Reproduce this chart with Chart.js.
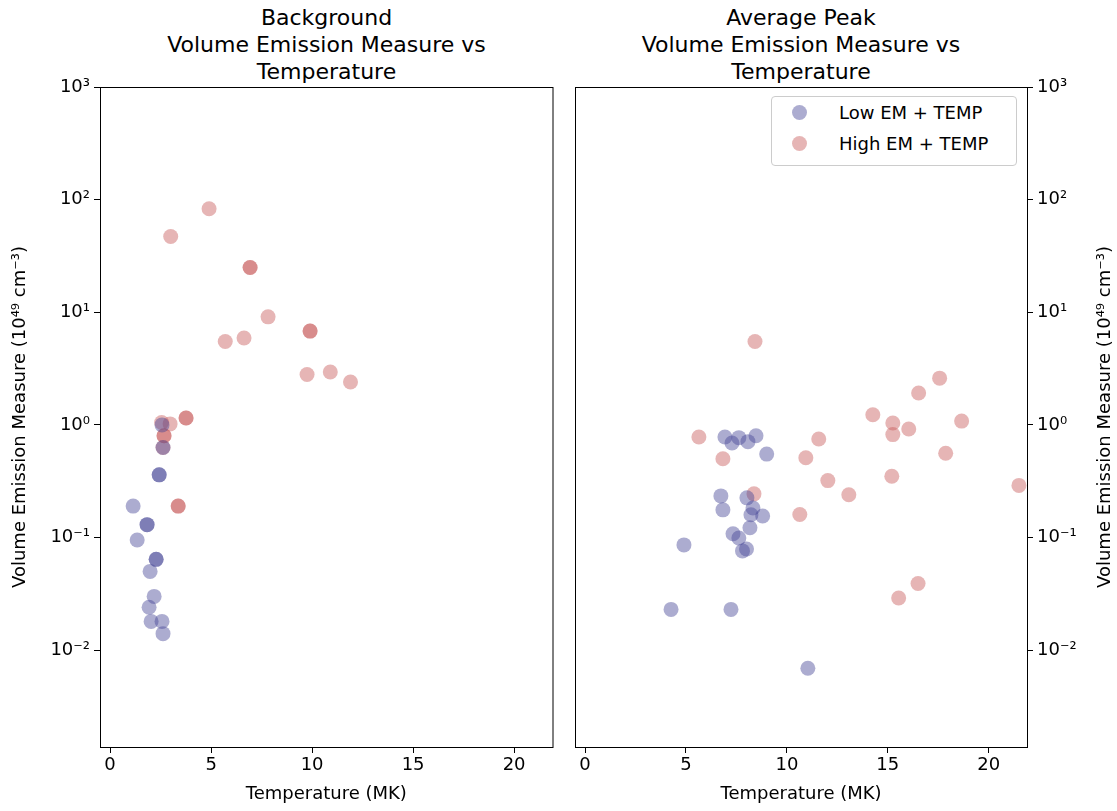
<!DOCTYPE html>
<html>
<head>
<meta charset="UTF-8">
<script src="https://cdn.jsdelivr.net/npm/chart.js"></script>
<style>
  body { margin: 0; background: #fff; font-family: 'DejaVu Sans', sans-serif; }
  .wrap { position: absolute; top: 0; height: 811px; }
  .title { position: absolute; top: 4px; text-align: center; font-size: 22px; line-height: 27px; color: #000; }
  .legend { position: absolute; left: 771px; top: 96px; width: 244px; height: 68px; border: 1px solid #ccc; border-radius: 4px; background: #fff; font-size: 18px; }
  .legend div { position: absolute; left: 20px; display: flex; align-items: center; }
  .legend span.dot { width: 15px; height: 15px; border-radius: 50%; margin-right: 32px; display: inline-block; }
</style>
</head>
<body>
<div class="title" style="left:100px;width:453px">Background<br>Volume Emission Measure vs<br>Temperature</div>
<div class="title" style="left:575px;width:452px">Average Peak<br>Volume Emission Measure vs<br>Temperature</div>
<div class="wrap" style="left:0;width:560px"><canvas id="c1"></canvas></div>
<div class="wrap" style="left:565px;width:552px"><canvas id="c2"></canvas></div>
<div class="legend">
  <div style="top:5px"><span class="dot" style="background:rgba(70,70,150,0.45)"></span>Low EM + TEMP</div>
  <div style="top:36px"><span class="dot" style="background:rgba(200,90,90,0.45)"></span>High EM + TEMP</div>
</div>
<script>
// background: low group
const bgLowT  = [2.62, 2.43, 2.43, 1.14, 1.83, 1.83, 1.34, 2.28, 2.28, 1.98, 2.18, 1.93, 2.03, 2.57, 2.62, 2.57];
const bgLowEM = [0.63, 0.36, 0.36, 0.19, 0.13, 0.13, 0.095, 0.064, 0.064, 0.05, 0.03, 0.024, 0.018, 0.018, 0.014, 1.0];
// background: high group
const bgHighT  = [2.62, 3.37, 3.37, 3.76, 3.76, 2.55, 2.97, 2.67, 2.67, 4.9, 3.0, 6.93, 6.93, 7.82, 5.7, 6.63, 9.9, 9.9, 9.75, 10.9, 11.9];
const bgHighEM = [0.63, 0.19, 0.19, 1.15, 1.15, 1.05, 1.02, 0.8, 0.8, 83, 47, 25, 25, 9.1, 5.5, 5.9, 6.8, 6.8, 2.8, 2.95, 2.4];
// peak: low group
const pkLowT  = [6.93, 7.28, 7.62, 8.07, 8.47, 9.0, 6.73, 6.83, 8.02, 8.32, 8.22, 8.8, 8.17, 7.33, 7.62, 7.8, 8.0, 4.9, 4.26, 7.23, 11.04];
const pkLowEM = [0.78, 0.69, 0.77, 0.71, 0.80, 0.55, 0.234, 0.176, 0.225, 0.183, 0.159, 0.155, 0.122, 0.108, 0.099, 0.076, 0.079, 0.086, 0.023, 0.023, 0.0069];
// peak: high group
const pkHighT  = [5.64, 6.83, 8.37, 8.42, 10.64, 10.94, 11.58, 12.03, 13.07, 14.26, 15.2, 15.25, 15.25, 15.54, 16.04, 16.5, 16.53, 17.57, 17.87, 18.66, 21.5];
const pkHighEM = [0.78, 0.5, 0.244, 5.5, 0.16, 0.51, 0.75, 0.32, 0.24, 1.23, 0.35, 0.82, 1.04, 0.029, 0.92, 0.039, 1.92, 2.6, 0.56, 1.08, 0.29];
const xTicks = [0, 5, 10, 15, 20];
const yTitle = 'Volume Emission Measure (10⁴⁹ cm⁻³)';

const lowColor = 'rgba(70,70,150,0.45)';
const highColor = 'rgba(200,90,90,0.45)';
const sup = {'0':'⁰','1':'¹','2':'²','3':'³','-':'⁻'};
const tickFont = { size: 18, family: "'DejaVu Sans', sans-serif" };
const titleFont = { size: 18, family: "'DejaVu Sans', sans-serif" };

const pts = (xs, ys) => xs.map((x, i) => ({ x: x, y: ys[i] }));

const boxPlugin = {
  id: 'box',
  afterDraw(chart) {
    const a = chart.chartArea, ctx = chart.ctx;
    ctx.save();
    ctx.strokeStyle = '#000'; ctx.lineWidth = 1;
    ctx.strokeRect(a.left + 0.5, a.top + 0.5, a.right - a.left, a.bottom - a.top);
    // right-side axis title, read bottom to top
    if (chart.options.scales.y.position === 'right') {
      ctx.translate(chart.width - 12, (a.top + a.bottom) / 2);
      ctx.rotate(-Math.PI / 2);
      ctx.fillStyle = '#000';
      ctx.font = "18px 'DejaVu Sans', sans-serif";
      ctx.textAlign = 'center'; ctx.textBaseline = 'middle';
      ctx.fillText(yTitle, 0, 0);
    }
    ctx.restore();
  }
};

function makeChart(id, low, high, side, padLeft, padRight, yWidth) {
  return new Chart(document.getElementById(id), {
    type: 'scatter',
    data: { datasets: [
      { label: 'Low EM + TEMP', data: low, backgroundColor: lowColor, borderWidth: 0, pointRadius: 7.5, pointHoverRadius: 7.5 },
      { label: 'High EM + TEMP', data: high, backgroundColor: highColor, borderWidth: 0, pointRadius: 7.5, pointHoverRadius: 7.5 }
    ]},
    options: {
      animation: false, responsive: true, maintainAspectRatio: false,
      layout: { padding: { top: 87, left: padLeft, right: padRight, bottom: 0 } },
      plugins: { legend: { display: false }, tooltip: { enabled: false } },
      scales: {
        x: {
          type: 'linear', min: -0.5, max: 21.9,
          afterBuildTicks: s => { s.ticks = xTicks.map(v => ({ value: v })); },
          ticks: { font: tickFont, color: '#000', padding: 2 },
          grid: { drawOnChartArea: false, tickLength: 6, color: '#000' },
          border: { color: '#000' },
          title: { display: true, text: 'Temperature (MK)', font: titleFont, color: '#000', padding: { top: 0, bottom: 6 } },
          afterFit: s => { s.height = 64; }
        },
        y: {
          type: 'logarithmic', position: side, min: 0.00138, max: 1000,
          afterBuildTicks: s => { s.ticks = [-2, -1, 0, 1, 2, 3].map(e => ({ value: Math.pow(10, e) })); },
          ticks: { font: tickFont, color: '#000', padding: 4,
            callback: v => { const e = String(Math.round(Math.log10(v))); return '10' + e.split('').map(c => sup[c]).join(''); } },
          grid: { drawOnChartArea: false, tickLength: 6, color: '#000' },
          border: { color: '#000' },
          title: { display: side === 'left', text: yTitle, font: titleFont, color: '#000', padding: 2 },
          afterFit: s => { s.width = yWidth; }
        }
      }
    },
    plugins: [boxPlugin]
  });
}

makeChart('c1', pts(bgLowT, bgLowEM), pts(bgHighT, bgHighEM), 'left', 8, 7, 92);
makeChart('c2', pts(pkLowT, pkLowEM), pts(pkHighT, pkHighEM), 'right', 10, 8, 82);
</script>
</body>
</html>
